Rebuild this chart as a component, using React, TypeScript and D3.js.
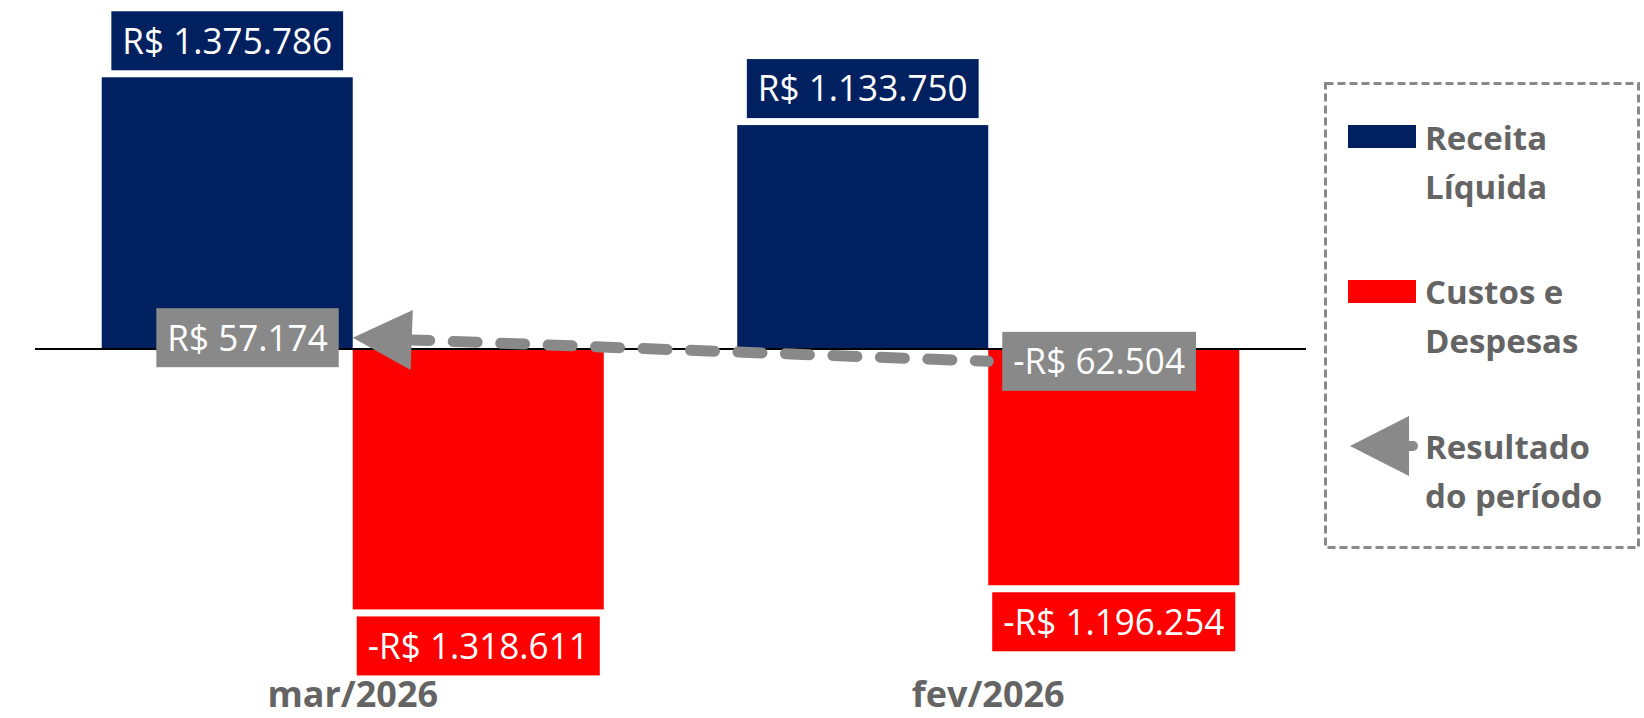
import React, { useEffect, useRef } from "react";
import * as d3 from "d3";

// ---- Data ----
const categories = ["mar/2026", "fev/2026"];
const receitaLiquida = [1375786, 1133750];
const custosDespesas = [-1318611, -1196254];
const resultadoPeriodo = [57174, -62504];
const legendLabels = [
  ["Receita", "Líquida"],
  ["Custos e", "Despesas"],
  ["Resultado", "do período"],
];

const W = 1644;
const H = 718;
const NAVY = "#002060";
const RED = "#FF0000";
const GRAY = "#898989";
const TEXT = "#646464";
const FONT = "'Open Sans', 'Noto Sans', sans-serif";

function fmt(v: number): string {
  const s = Math.abs(Math.round(v))
    .toString()
    .replace(/\B(?=(\d{3})+(?!\d))/g, ".");
  return (v < 0 ? "-" : "") + "R$ " + s;
}

export default function App() {
  const ref = useRef<SVGSVGElement | null>(null);

  useEffect(() => {
    const svg = d3.select(ref.current);
    svg.selectAll("*").remove();

    const x0 = d3
      .scaleBand<string>()
      .domain(categories)
      .range([35, 1306])
      .paddingInner(0.21)
      .paddingOuter(0.105);
    const x1 = d3
      .scaleBand<string>()
      .domain(["receita", "custos"])
      .range([0, x0.bandwidth()]);
    const y = d3.scaleLinear().domain([-1600000, 1600000]).range([665, 33]);

    svg.append("rect").attr("width", W).attr("height", H).attr("fill", "#fff");

    const gBars = svg.append("g");
    categories.forEach((c, i) => {
      const xr = (x0(c) as number) + (x1("receita") as number);
      gBars
        .append("rect")
        .attr("x", xr)
        .attr("y", y(receitaLiquida[i]))
        .attr("width", x1.bandwidth())
        .attr("height", y(0) - y(receitaLiquida[i]))
        .attr("fill", NAVY);
      const xc = (x0(c) as number) + (x1("custos") as number);
      gBars
        .append("rect")
        .attr("x", xc)
        .attr("y", y(0))
        .attr("width", x1.bandwidth())
        .attr("height", y(custosDespesas[i]) - y(0))
        .attr("fill", RED);
    });

    // axis line
    svg
      .append("line")
      .attr("x1", 35)
      .attr("x2", 1306)
      .attr("y1", y(0))
      .attr("y2", y(0))
      .attr("stroke", "#000")
      .attr("stroke-width", 2);

    // result line
    const pts = categories.map((c, i) => [
      (x0(c) as number) + x0.bandwidth() / 2,
      y(resultadoPeriodo[i]),
    ]);
    const A = pts[0];
    const B = pts[pts.length - 1];
    const dx = B[0] - A[0];
    const dy = B[1] - A[1];
    const len = Math.hypot(dx, dy);
    const ux = dx / len;
    const uy = dy / len;
    const arrowLen = 59;
    const arrowHalf = 30;
    const base = [A[0] + ux * arrowLen, A[1] + uy * arrowLen];
    const lineGen = d3.line();
    svg
      .append("path")
      .attr("d", lineGen([base as [number, number], ...pts.slice(1)] as [number, number][]))
      .attr("fill", "none")
      .attr("stroke", GRAY)
      .attr("stroke-width", 11)
      .attr("stroke-linecap", "round")
      .attr("stroke-dasharray", "24 23.5")
      .attr("stroke-dashoffset", 6);
    svg
      .append("polygon")
      .attr(
        "points",
        [
          [A[0], A[1]],
          [base[0] - uy * arrowHalf, base[1] + ux * arrowHalf],
          [base[0] + uy * arrowHalf, base[1] - ux * arrowHalf],
        ]
          .map((p) => p.join(","))
          .join(" ")
      )
      .attr("fill", GRAY);

    // label helper
    const boxH = 59;
    const pad = 11;
    function label(
      anchor: "middle" | "left" | "right",
      ax: number,
      cy: number,
      txt: string,
      bg: string,
      fs: number,
      sx: number
    ) {
      const g = svg.append("g");
      const rect = g.append("rect").attr("fill", bg);
      const t = g
        .append("text")
        .text(txt)
        .attr("font-family", FONT)
        .attr("font-size", fs)
        .attr("fill", "#fff")
        .attr("text-anchor", "middle");
      const tw = (t.node() as SVGTextElement).getComputedTextLength() * sx;
      const bw = tw + pad * 2;
      let cx = ax;
      if (anchor === "left") cx = ax + bw / 2;
      if (anchor === "right") cx = ax - bw / 2;
      t.attr(
        "transform",
        `translate(${cx},${cy + (fs * 0.714) / 2}) scale(${sx},1)`
      );
      rect
        .attr("x", cx - bw / 2)
        .attr("y", cy - boxH / 2)
        .attr("width", bw)
        .attr("height", boxH);
    }

    const LFS = 36;
    const LSX = 0.975;
    categories.forEach((c, i) => {
      const cxr = (x0(c) as number) + (x1("receita") as number) + x1.bandwidth() / 2;
      label("middle", cxr, y(receitaLiquida[i]) - 7 - boxH / 2, fmt(receitaLiquida[i]), NAVY, LFS, LSX);
      const cxc = (x0(c) as number) + (x1("custos") as number) + x1.bandwidth() / 2;
      label("middle", cxc, y(custosDespesas[i]) + 7 + boxH / 2, fmt(custosDespesas[i]), RED, LFS, LSX);
    });

    pts.forEach((p, i) => {
      if (i === 0) label("right", p[0] - 14, p[1], fmt(resultadoPeriodo[i]), GRAY, LFS, LSX);
      else label("left", p[0] + 14, p[1], fmt(resultadoPeriodo[i]), GRAY, LFS, LSX);
    });

    // category labels
    categories.forEach((c) => {
      svg
        .append("text")
        .text(c)
        .attr("x", (x0(c) as number) + x0.bandwidth() / 2)
        .attr("y", 707)
        .attr("text-anchor", "middle")
        .attr("font-family", FONT)
        .attr("font-weight", 700)
        .attr("font-size", 36)
        .attr("fill", TEXT);
    });

    // legend
    const lg = svg.append("g");
    lg.append("rect")
      .attr("x", 1325.5)
      .attr("y", 83.5)
      .attr("width", 313)
      .attr("height", 464)
      .attr("fill", "none")
      .attr("stroke", GRAY)
      .attr("stroke-width", 3)
      .attr("stroke-dasharray", "8 4");

    const itemTop = [150, 304, 459];
    const lineGap = 49;
    lg.append("rect").attr("x", 1348).attr("y", 125).attr("width", 68).attr("height", 23).attr("fill", NAVY);
    lg.append("rect").attr("x", 1348).attr("y", 280).attr("width", 68).attr("height", 23).attr("fill", RED);
    lg.append("polygon")
      .attr("points", "1350,446 1409,416 1409,476")
      .attr("fill", GRAY);
    lg.append("line")
      .attr("x1", 1409)
      .attr("x2", 1413)
      .attr("y1", 446)
      .attr("y2", 446)
      .attr("stroke", GRAY)
      .attr("stroke-width", 10)
      .attr("stroke-linecap", "round");

    legendLabels.forEach((lines, i) => {
      lines.forEach((ln, j) => {
        lg.append("text")
          .text(ln)
          .attr("x", 1425)
          .attr("y", itemTop[i] + j * lineGap)
          .attr("font-family", FONT)
          .attr("font-weight", 700)
          .attr("font-size", 33)
          .attr("fill", TEXT);
      });
    });
  }, []);

  return (
    <svg
      ref={ref}
      width={W}
      height={H}
      style={{ position: "absolute", left: 0, top: 0, display: "block" }}
    />
  );
}
